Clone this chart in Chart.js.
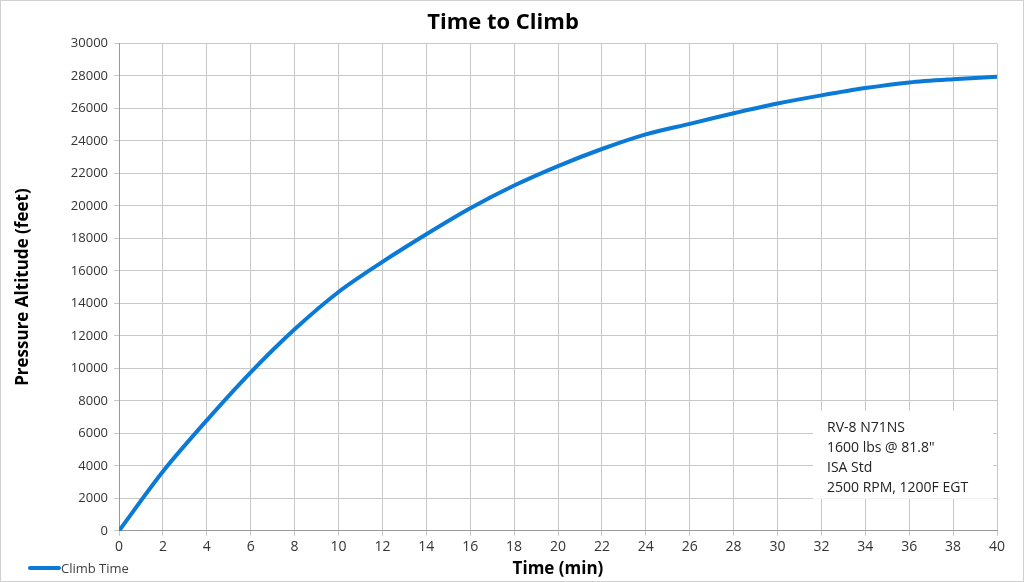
<!DOCTYPE html>
<html>
<head>
<meta charset="utf-8">
<script src="https://cdn.jsdelivr.net/npm/chart.js@4"></script>
<style>
  html, body { margin: 0; padding: 0; background: #fff; }
  #wrap { width: 1022px; height: 580px; border: 1px solid #d0d0d0; position: relative; }
</style>
</head>
<body>
<div id="wrap"><canvas id="climbChart"></canvas></div>
<script>
// data
const climbMinutes = [0, 2, 4, 6, 8, 10, 12, 14, 16, 18, 20, 22, 24, 26, 28, 30, 32, 34, 36, 38, 40];
const climbAltitude = [0, 3650, 6800, 9750, 12400, 14700, 16550, 18250, 19850, 21250, 22450, 23500, 24400, 25050, 25700, 26300, 26800, 27250, 27600, 27800, 27950];
const noteLines = ['RV-8 N71NS', '1600 lbs @ 81.8"', 'ISA Std', '2500 RPM, 1200F EGT'];

const fontFam = "'Open Sans', 'Liberation Sans', sans-serif";

// legend drawn in the bottom-left corner, on the same row as the x title
const cornerLegend = {
    id: 'cornerLegend',
    afterDraw(chart) {
        const ctx = chart.ctx;
        const ds = chart.data.datasets[0];
        ctx.save();
        ctx.strokeStyle = ds.borderColor;
        ctx.lineWidth = 4;
        ctx.lineCap = 'round';
        ctx.beginPath();
        ctx.moveTo(29, 567);
        ctx.lineTo(58, 567);
        ctx.stroke();
        ctx.fillStyle = '#404040';
        ctx.font = '13px ' + fontFam;
        ctx.textBaseline = 'middle';
        ctx.fillText(ds.label, 60, 568);
        ctx.restore();
    }
};

// text box inside the plot area
const noteBox = {
    id: 'noteBox',
    afterDatasetsDraw(chart) {
        const ctx = chart.ctx;
        const area = chart.chartArea;
        const x = area.right - 184, y = area.bottom - 120;
        ctx.save();
        ctx.fillStyle = '#fff';
        ctx.fillRect(x, y, 180, 88);
        ctx.fillStyle = '#222';
        ctx.font = '14px ' + fontFam;
        ctx.textBaseline = 'middle';
        noteLines.forEach(function (t, i) {
            ctx.fillText(t, x + 14, y + 17 + i * 20);
        });
        ctx.restore();
    }
};

const ctx = document.getElementById('climbChart').getContext('2d');
const climbChart = new Chart(ctx, {
    type: 'line',
    data: {
        labels: climbMinutes,
        datasets: [{
            label: 'Climb Time',
            data: climbMinutes.map(function (m, i) { return { x: m, y: climbAltitude[i] }; }),
            borderColor: '#0a7ad6',
            borderWidth: 4,
            pointRadius: 0,
            tension: 0.3,
            fill: false
        }]
    },
    options: {
        responsive: true,
        maintainAspectRatio: false,
        animation: false,
        layout: { padding: { left: 8, right: 26, top: 4, bottom: 2 } },
        plugins: {
            legend: { display: false },
            tooltip: { enabled: false },
            title: {
                display: true,
                text: 'Time to Climb',
                color: '#000',
                font: { family: fontFam, size: 22, weight: 'bold' },
                padding: { top: 5, bottom: 7 }
            }
        },
        scales: {
            x: {
                type: 'linear',
                min: 0,
                max: 40,
                ticks: { stepSize: 2, color: '#333', font: { family: fontFam, size: 14 }, maxRotation: 0, padding: 3 },
                grid: { color: '#c8c8c8', tickLength: 5 },
                border: { color: '#9a9a9a' },
                title: {
                    display: true,
                    text: 'Time (min)',
                    color: '#000',
                    font: { family: fontFam, size: 17, weight: 'bold' },
                    padding: { top: 0, bottom: 0 }
                }
            },
            y: {
                min: 0,
                max: 30000,
                afterFit: function (scale) { scale.width = 110; },
                ticks: {
                    stepSize: 2000,
                    color: '#333',
                    font: { family: fontFam, size: 13 },
                    padding: 6,
                    callback: function (v) { return String(v); }
                },
                grid: { color: '#c8c8c8', tickLength: 5 },
                border: { color: '#9a9a9a' },
                title: {
                    display: true,
                    text: 'Pressure Altitude (feet)',
                    color: '#000',
                    font: { family: fontFam, size: 17, weight: 'bold' },
                    padding: { top: 4, bottom: 6 }
                }
            }
        }
    },
    plugins: [noteBox, cornerLegend]
});
</script>
</body>
</html>
